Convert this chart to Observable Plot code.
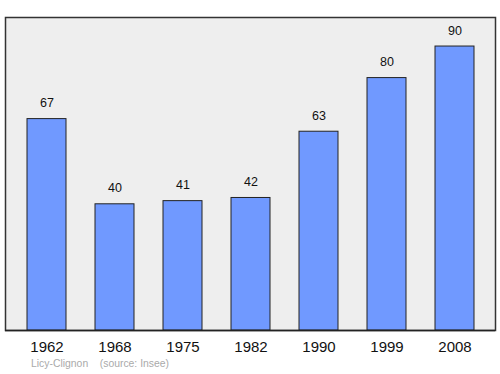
<!DOCTYPE html>
<html>
<head>
<meta charset="utf-8">
<script src="https://cdn.jsdelivr.net/npm/d3@7"></script>
<script src="https://cdn.jsdelivr.net/npm/@observablehq/plot@0.6"></script>
<style>
  html, body { margin: 0; padding: 0; background: #fff; }
  #chart { position: relative; width: 500px; height: 374px; }
  #caption { position: absolute; left: 31px; top: 358px; font: 10.4px "Liberation Sans", Arial, sans-serif; color: #aaa; white-space: pre; }
</style>
</head>
<body>
<div id="chart"></div>
<script>
const years = ["1962", "1968", "1975", "1982", "1990", "1999", "2008"];
const population = [67, 40, 41, 42, 63, 80, 90];
const captionText = "Licy-Clignon    (source: Insee)";

const data = years.map((y, i) => ({year: y, value: population[i]}));

const plot = Plot.plot({
  width: 500,
  height: 374,
  marginTop: 17,
  marginBottom: 44,
  marginLeft: 5,
  marginRight: 5,
  style: {fontFamily: "Liberation Sans, Arial, sans-serif", background: "#fff"},
  x: {domain: years, range: [11.3, 489.8], paddingInner: 0.43, paddingOuter: 0.215, axis: null},
  y: {domain: [0, 99.2], axis: null},
  marks: [
    Plot.frame({fill: "#eeeeee", stroke: "#333", strokeWidth: 1.5}),
    Plot.barY(data, {x: "year", y: "value", fill: "#7099ff", stroke: "#222", strokeWidth: 1}),
    Plot.text(data, {x: "year", y: "value", text: d => String(d.value), dy: -16, fontSize: 12.5, fill: "#111"}),
    Plot.text(data, {x: "year", y: 0, text: "year", dy: 17, fontSize: 15, fill: "#111"}),
    Plot.ruleY([0], {stroke: "#222", strokeWidth: 1.5})
  ]
});
document.getElementById("chart").appendChild(plot);
const cap = document.createElement("div");
cap.id = "caption";
cap.textContent = captionText;
document.getElementById("chart").appendChild(cap);
</script>
</body>
</html>
